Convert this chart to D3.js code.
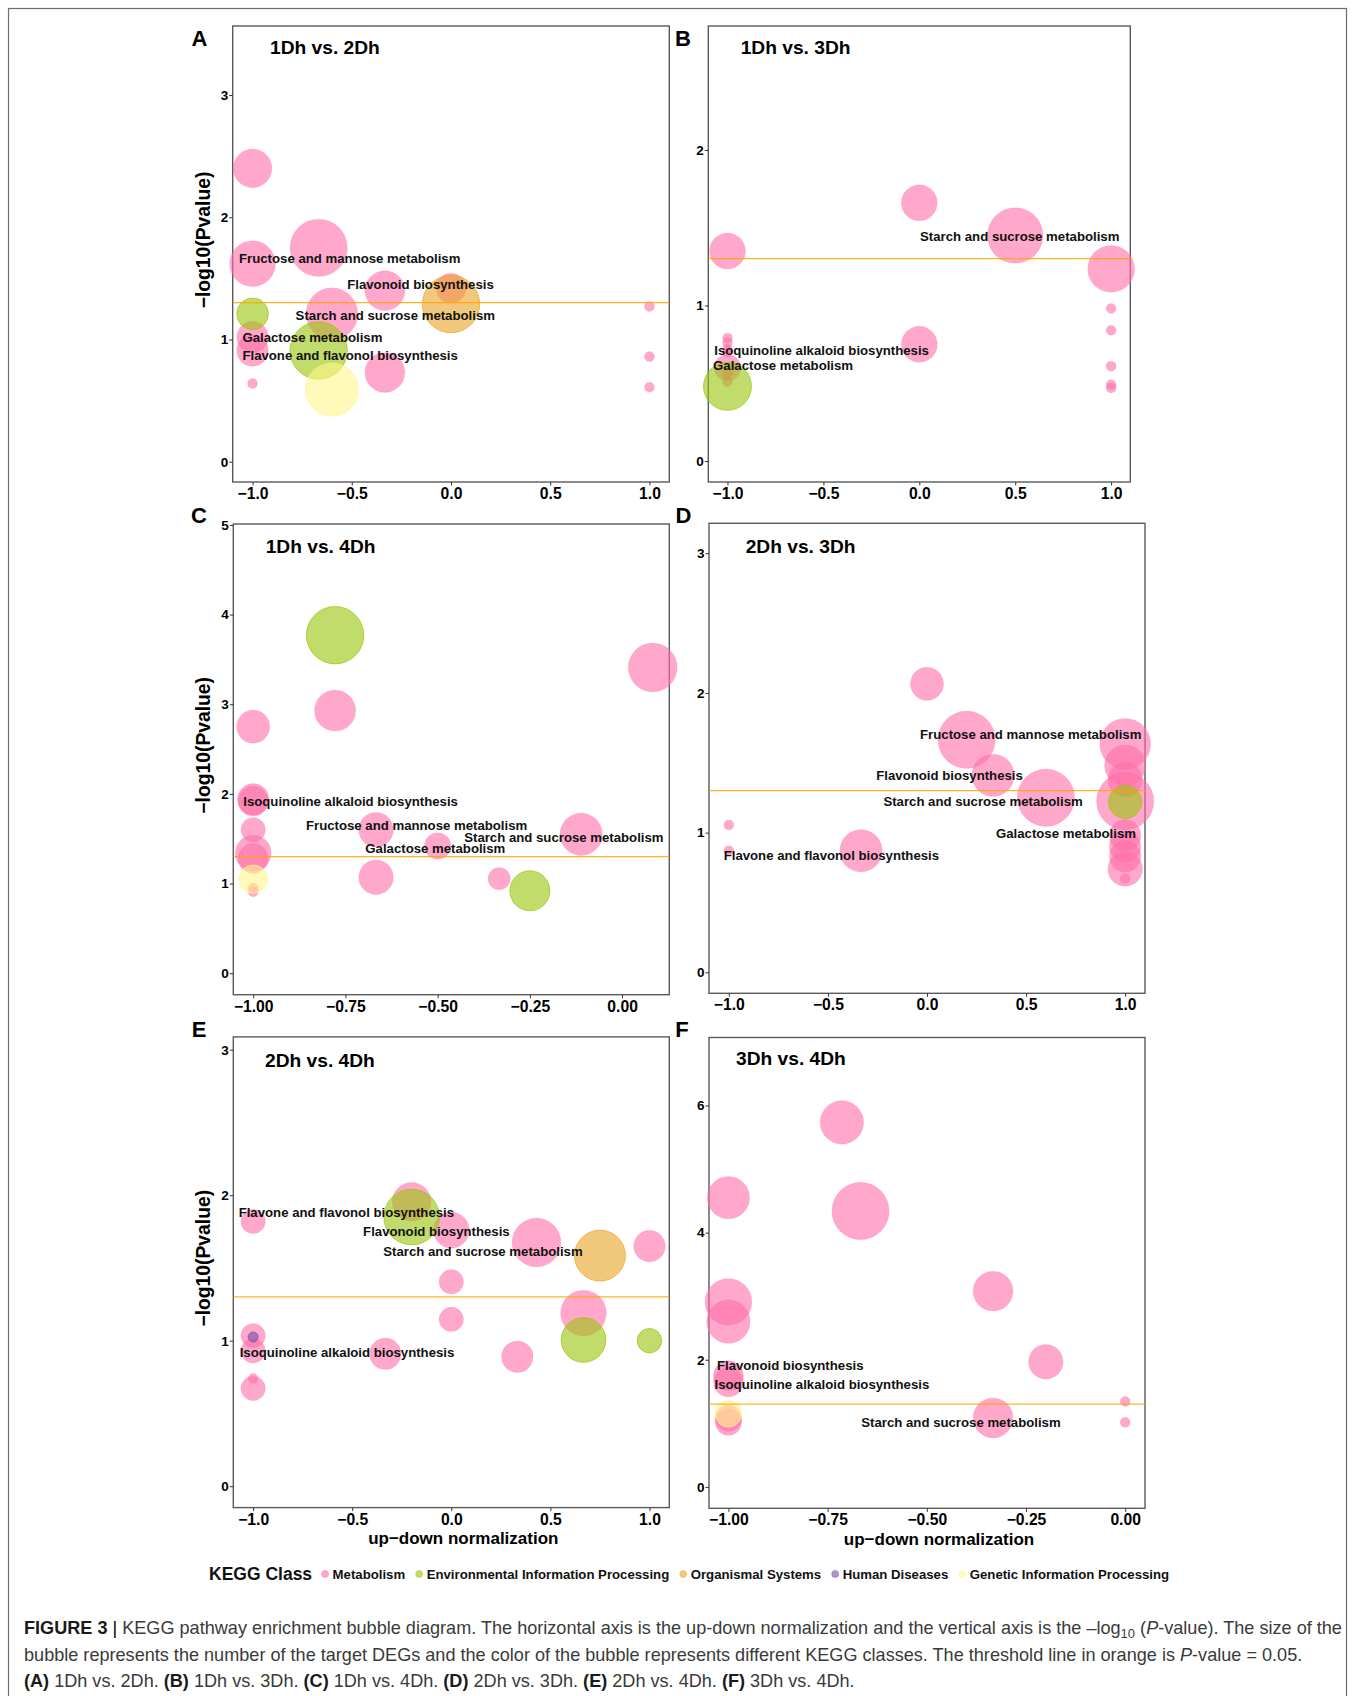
<!DOCTYPE html>
<html>
<head>
<meta charset="utf-8">
<script src="https://cdn.jsdelivr.net/npm/d3@7"></script>
<style>
  body { margin: 0; background: #fff; }
  svg { display: block; font-family: "Liberation Sans", Arial, sans-serif; }
</style>
</head>
<body>
<script>
// KEGG classes: M metabolism, E environmental, O organismal, H human diseases, G genetic
const classKeys = ["M", "E", "O", "H", "G"];
const classNames = ["Metabolism", "Environmental Information Processing", "Organismal Systems", "Human Diseases", "Genetic Information Processing"];
const classColors = ["#FF6EA8", "#99C40A", "#E9A525", "#7B4FA8", "#FFF78C"];

const threshold = -Math.log10(0.05);

// [up-down normalization, -log10(P), number of DEGs, class]
const pointsA = [
  [-1, 2.40, 15, "M"], [-1, 1.62, 21, "M"], [-0.667, 1.75, 33, "M"], [-0.333, 1.40, 16, "M"],
  [0, 1.42, 9, "M"], [-0.6, 1.21, 27, "M"], [-1, 1.02, 10, "M"], [-1, 0.91, 10, "M"],
  [-0.333, 0.73, 16, "M"], [-1, 0.64, 1, "M"], [1, 1.27, 1, "M"], [1, 0.86, 1, "M"], [1, 0.61, 1, "M"],
  [-1, 1.21, 10, "E"], [-0.667, 0.91, 33, "E"], [0, 1.29, 33, "O"], [-0.6, 0.59, 28, "G"]
];
const pointsB = [
  [0, 1.66, 13, "M"], [0.5, 1.45, 31, "M"], [-1, 1.35, 13, "M"], [1, 1.235, 22, "M"],
  [1, 0.98, 1, "M"], [1, 0.84, 1, "M"], [1, 0.61, 1, "M"], [1, 0.49, 1, "M"], [1, 0.47, 1, "M"],
  [0, 0.75, 13, "M"], [-1, 0.79, 1, "M"], [-1, 0.76, 1, "M"], [-1, 0.72, 1, "M"], [-1, 0.70, 1, "M"],
  [-1, 0.60, 7, "M"], [-1, 0.56, 1, "M"], [-1, 0.51, 1, "M"],
  [-1, 0.48, 23, "E"]
];
const pointsC = [
  [0.083, 3.41, 24, "M"], [-0.778, 2.93, 17, "M"], [-1, 2.75, 11, "M"], [-1, 1.94, 10, "M"],
  [-1, 1.92, 9, "M"], [-1, 1.60, 6, "M"], [-1, 1.34, 13, "M"], [-1, 1.28, 9, "M"],
  [-1, 0.95, 1, "M"], [-1, 0.91, 1, "M"], [-0.667, 1.60, 12, "M"], [-0.667, 1.07, 12, "M"],
  [-0.5, 1.42, 7, "M"], [-0.333, 1.055, 5, "M"], [-0.111, 1.55, 18, "M"],
  [-0.778, 3.77, 33, "E"], [-0.25, 0.92, 16, "E"], [-1, 1.05, 8, "G"]
];
const pointsD = [
  [0, 2.065, 11, "M"], [0.2, 1.665, 33, "M"], [0.333, 1.41, 18, "M"], [0.6, 1.25, 33, "M"],
  [1, 1.635, 26, "M"], [1, 1.48, 17, "M"], [1, 1.38, 12, "M"], [1, 1.225, 33, "M"],
  [1, 0.98, 10, "M"], [1, 0.90, 10, "M"], [1, 0.83, 10, "M"], [1, 0.74, 12, "M"], [1, 0.67, 1, "M"],
  [-1, 1.055, 1, "M"], [-1, 0.87, 1, "M"], [-0.333, 0.87, 18, "M"],
  [1, 1.22, 11, "E"]
];
const pointsE = [
  [-0.2, 1.955, 15, "M"], [0, 1.76, 13, "M"], [-1, 1.82, 6, "M"], [0.43, 1.675, 24, "M"],
  [1, 1.65, 10, "M"], [0, 1.405, 6, "M"], [0, 1.147, 6, "M"], [0.667, 1.19, 21, "M"],
  [0.333, 0.89, 10, "M"], [-0.333, 0.91, 10, "M"], [-1, 1.035, 6, "M"], [-1, 0.93, 6, "M"],
  [-1, 0.74, 1, "M"], [-1, 0.672, 6, "M"],
  [-0.2, 1.85, 31, "E"], [0.667, 1.005, 20, "E"], [1, 1.0, 6, "E"],
  [0.75, 1.585, 26, "O"], [-1, 1.025, 1, "H"]
];
const pointsF = [
  [-0.714, 5.735, 19, "M"], [-1, 4.55, 18, "M"], [-0.667, 4.34, 33, "M"], [-1, 2.91, 22, "M"],
  [-1, 2.60, 19, "M"], [-0.333, 3.08, 16, "M"], [-0.2, 1.967, 12, "M"], [-1, 1.75, 9, "M"],
  [-1, 1.65, 9, "M"], [-1, 1.08, 7, "M"], [-1, 1.02, 7, "M"], [-0.333, 1.085, 16, "M"],
  [0, 1.345, 1, "M"], [0, 1.015, 1, "M"],
  [-1, 1.15, 7, "G"]
];

// pathway labels: [text, left x, y]
const labelsA = [
  ["Fructose and mannose metabolism", -1.068, 1.664],
  ["Flavonoid biosynthesis", -0.523, 1.446],
  ["Starch and sucrose metabolism", -0.783, 1.195],
  ["Galactose metabolism", -1.051, 1.015],
  ["Flavone and flavonol biosynthesis", -1.051, 0.868]
];
const labelsB = [
  ["Starch and sucrose metabolism", 0.004, 1.443],
  ["Isoquinoline alkaloid biosynthesis", -1.069, 0.712],
  ["Galactose metabolism", -1.075, 0.611]
];
const labelsC = [
  ["Isoquinoline alkaloid biosynthesis", -1.027, 1.913],
  ["Fructose and mannose metabolism", -0.857, 1.653],
  ["Starch and sucrose metabolism", -0.428, 1.516],
  ["Galactose metabolism", -0.696, 1.386]
];
const labelsD = [
  ["Fructose and mannose metabolism", -0.035, 1.699],
  ["Flavonoid biosynthesis", -0.256, 1.41],
  ["Starch and sucrose metabolism", -0.22, 1.221],
  ["Galactose metabolism", 0.348, 0.995],
  ["Flavone and flavonol biosynthesis", -1.026, 0.838]
];
const labelsE = [
  ["Flavone and flavonol biosynthesis", -1.073, 1.881],
  ["Flavonoid biosynthesis", -0.445, 1.748],
  ["Starch and sucrose metabolism", -0.343, 1.616],
  ["Isoquinoline alkaloid biosynthesis", -1.068, 0.916]
];
const labelsF = [
  ["Flavonoid biosynthesis", -1.029, 1.909],
  ["Isoquinoline alkaloid biosynthesis", -1.035, 1.616],
  ["Starch and sucrose metabolism", -0.665, 1.008]
];

const ticksWide = [-1, -0.5, 0, 0.5, 1];
const ticksNeg = [-1, -0.75, -0.5, -0.25, 0];

const panels = [
  { letter: "A", title: "1Dh vs. 2Dh", pts: pointsA, labels: labelsA, xDom: [-1.1, 1.1], yDom: [-0.166, 3.565],
    xTicks: ticksWide, xFmt: ".1f", yTicks: [0, 1, 2, 3], box: [232.7, 26, 669.3, 482], letterAt: [199.5, 38], titleAt: [270, 47.7], yTitle: true },
  { letter: "B", title: "1Dh vs. 3Dh", pts: pointsB, labels: labelsB, xDom: [-1.1, 1.1], yDom: [-0.135, 2.797],
    xTicks: ticksWide, xFmt: ".1f", yTicks: [0, 1, 2], box: [708.3, 26, 1130.3, 482], letterAt: [683, 38], titleAt: [740.7, 47.7] },
  { letter: "C", title: "1Dh vs. 4Dh", pts: pointsC, labels: labelsC, xDom: [-1.054, 0.128], yDom: [-0.239, 5.01],
    xTicks: ticksNeg, xFmt: ".2f", yTicks: [0, 1, 2, 3, 4, 5], box: [233.3, 524, 669.3, 994.7], letterAt: [199, 515], titleAt: [265.7, 546.7], yTitle: true },
  { letter: "D", title: "2Dh vs. 3Dh", pts: pointsD, labels: labelsD, xDom: [-1.1, 1.1], yDom: [-0.15, 3.214],
    xTicks: ticksWide, xFmt: ".1f", yTicks: [0, 1, 2, 3], box: [709, 523.3, 1145, 993.3], letterAt: [683.5, 515], titleAt: [745.7, 546.7] },
  { letter: "E", title: "2Dh vs. 4Dh", pts: pointsE, labels: labelsE, xDom: [-1.1, 1.1], yDom: [-0.147, 3.088],
    xTicks: ticksWide, xFmt: ".1f", yTicks: [0, 1, 2, 3], box: [233.3, 1036.9, 669.3, 1507.6], letterAt: [199, 1029], titleAt: [265, 1060.6], yTitle: true, xTitle: true },
  { letter: "F", title: "3Dh vs. 4Dh", pts: pointsF, labels: labelsF, xDom: [-1.049, 0.05], yDom: [-0.337, 7.07],
    xTicks: ticksNeg, xFmt: ".2f", yTicks: [0, 2, 4, 6], box: [709, 1037.5, 1145, 1508.3], letterAt: [682, 1029], titleAt: [736, 1058.2], xTitle: true }
];

const width = 1360, height = 1696;
const svg = d3.select("body").append("svg").attr("width", width).attr("height", height);

svg.append("rect").attr("x", 8.5).attr("y", 8.5).attr("width", 1338).attr("height", 1720)
  .attr("fill", "none").attr("stroke", "#6b6b6b").attr("stroke-width", 1.2);

const color = d3.scaleOrdinal().domain(classKeys).range(classColors);
const rScale = d3.scaleSqrt().domain([0, 33]).range([0, 28.7]);

panels.forEach(p => {
  const [x0, y0, x1, y1] = p.box;
  const x = d3.scaleLinear().domain(p.xDom).range([x0, x1]);
  const y = d3.scaleLinear().domain(p.yDom).range([y1, y0]);
  const g = svg.append("g");

  g.append("rect").attr("x", x0).attr("y", y0).attr("width", x1 - x0).attr("height", y1 - y0)
    .attr("fill", "none").attr("stroke", "#5a5a5a").attr("stroke-width", 1.4);

  const xAxis = g.append("g").attr("transform", `translate(0,${y1})`)
    .call(d3.axisBottom(x).tickValues(p.xTicks).tickFormat(d3.format(p.xFmt)).tickSize(3.5).tickPadding(2.5));
  const yAxis = g.append("g").attr("transform", `translate(${x0},0)`)
    .call(d3.axisLeft(y).tickValues(p.yTicks).tickFormat(d3.format("d")).tickSize(3.5).tickPadding(1));
  [xAxis, yAxis].forEach(a => {
    a.select(".domain").remove();
    a.selectAll(".tick line").attr("stroke", "#333");
    a.selectAll("text").attr("fill", "#000").attr("font-weight", "bold").attr("font-family", "Liberation Sans, Arial, sans-serif");
  });
  xAxis.selectAll("text").attr("font-size", 15.7);
  yAxis.selectAll("text").attr("font-size", 13.5);

  g.append("g").selectAll("circle").data(p.pts).join("circle")
    .attr("cx", d => x(d[0]))
    .attr("cy", d => y(d[1]))
    .attr("r", d => rScale(d[2]))
    .attr("fill", d => color(d[3]))
    .attr("fill-opacity", 0.6)
    .attr("stroke", d => color(d[3]))
    .attr("stroke-opacity", d => d[3] === "M" ? 0.15 : 0.7)
    .attr("stroke-width", 1);

  g.append("line").attr("x1", x0).attr("x2", x1).attr("y1", y(threshold)).attr("y2", y(threshold))
    .attr("stroke", "#FFA500").attr("stroke-opacity", 0.85).attr("stroke-width", 1.3);

  g.append("g").selectAll("text").data(p.labels).join("text")
    .attr("x", d => x(d[1]))
    .attr("y", d => y(d[2]))
    .attr("dominant-baseline", "central")
    .attr("font-size", 13.2).attr("font-weight", "bold").attr("fill", "#111")
    .text(d => d[0]);

  g.append("text").attr("x", p.titleAt[0]).attr("y", p.titleAt[1]).attr("dominant-baseline", "central")
    .attr("font-size", 19.2).attr("font-weight", "bold").attr("fill", "#000").text(p.title);

  svg.append("text").attr("x", p.letterAt[0]).attr("y", p.letterAt[1]).attr("dominant-baseline", "central")
    .attr("text-anchor", "middle").attr("font-size", 22).attr("font-weight", "bold").attr("fill", "#000").text(p.letter);

  if (p.yTitle) {
    g.append("text").attr("transform", `translate(203,${(y0 + y1) / 2 - 14}) rotate(-90)`)
      .attr("text-anchor", "middle").attr("dominant-baseline", "central")
      .attr("font-size", 19.3).attr("font-weight", "bold").attr("fill", "#000").text("\u2212log10(Pvalue)");
  }
  if (p.xTitle) {
    g.append("text").attr("x", (x0 + x1) / 2 + 12).attr("y", y1 + 31).attr("text-anchor", "middle")
      .attr("dominant-baseline", "central").attr("font-size", 17).attr("font-weight", "bold").attr("fill", "#000")
      .text("up\u2212down normalization");
  }
});

// legend
const legend = svg.append("g").attr("transform", "translate(209,1574)");
const lt = legend.append("text").attr("x", 0).attr("y", 0).attr("dominant-baseline", "central")
  .attr("font-size", 17.5).attr("font-weight", "bold").attr("fill", "#111").text("KEGG Class");
let cursor = lt.node().getComputedTextLength() + 9.5;
classNames.forEach((name, i) => {
  legend.append("circle").attr("cx", cursor + 3.5).attr("cy", 0).attr("r", 3.5)
    .attr("fill", classColors[i]).attr("fill-opacity", 0.6).attr("stroke", classColors[i]).attr("stroke-opacity", 0.4);
  const t = legend.append("text").attr("x", cursor + 11).attr("y", 0).attr("dominant-baseline", "central")
    .attr("font-size", 13.2).attr("font-weight", "bold").attr("fill", "#111").text(name);
  cursor += 11 + t.node().getComputedTextLength() + 10.5;
});

// caption
const cap = svg.append("g").attr("transform", "translate(24,0)").attr("fill", "#3a3a3a");
const capSize = 18.1;
const line1 = cap.append("text").attr("y", 1634).attr("font-size", capSize);
line1.append("tspan").attr("font-weight", "bold").attr("fill", "#1a1a1a").text("FIGURE 3");
line1.append("tspan").attr("fill", "#000").text(" | ");
line1.append("tspan").text("KEGG pathway enrichment bubble diagram. The horizontal axis is the up-down normalization and the vertical axis is the \u2013log");
line1.append("tspan").attr("font-size", capSize * 0.72).attr("dy", 4).text("10");
line1.append("tspan").attr("dy", -4).text(" (");
line1.append("tspan").attr("font-style", "italic").text("P");
line1.append("tspan").text("-value). The size of the");

const line2 = cap.append("text").attr("y", 1661).attr("font-size", capSize);
line2.append("tspan").text("bubble represents the number of the target DEGs and the color of the bubble represents different KEGG classes. The threshold line in orange is ");
line2.append("tspan").attr("font-style", "italic").text("P");
line2.append("tspan").text("-value = 0.05.");

const line3 = cap.append("text").attr("y", 1687).attr("font-size", capSize);
panels.forEach((p, i) => {
  line3.append("tspan").attr("font-weight", "bold").attr("fill", "#1a1a1a").text((i ? " " : "") + "(" + p.letter + ")");
  line3.append("tspan").text(" " + p.title + ".");
});
</script>
</body>
</html>
